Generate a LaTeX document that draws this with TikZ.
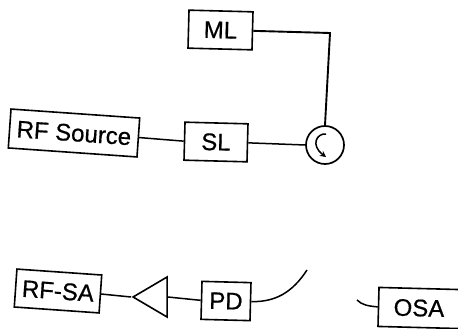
\documentclass[tikz,border=0pt]{standalone}
\usepackage{fontspec}
\setmainfont[FakeBold=0.6,AutoFakeBold=false]{Liberation Sans}
\usetikzlibrary{shapes.geometric,arrows.meta}
\tikzset{
  box/.style={draw=black,line width=1.6pt,inner sep=0pt,font=\fontsize{24}{24}\selectfont,fill=white},
  wire/.style={draw=black,line width=1.5pt},
  thick wire/.style={draw=black,line width=1.9pt},
  port/.style={draw=black,line width=1.7pt,circle,inner sep=0pt,minimum size=38pt},
  amp/.style={draw=black,line width=1.6pt,isosceles triangle,isosceles triangle stretches,shape border rotate=177,minimum width=40pt,minimum height=34pt,inner sep=0pt},
}
\begin{document}
\begin{tikzpicture}[x=1pt,y=-1pt]
\useasboundingbox (0,0) rectangle (458,329);
\node[box,minimum width=64pt,minimum height=38pt,rotate=-1.5] (ml) at (220.5,30) {ML};
\node[box,minimum width=129pt,minimum height=39pt,rotate=-4] (rf) at (74,133) {RF Source};
\node[box,minimum width=63pt,minimum height=38pt,rotate=-1.5] (sl) at (216,142) {SL};
\node[port] (circ) at (325,145) {};
\node[box,minimum width=85pt,minimum height=38pt,rotate=-4] (sa) at (58,291) {RF-SA};
\node[amp,anchor=apex] (tri) at (131,297) {};
\node[box,minimum width=49pt,minimum height=38pt,rotate=-1.5] (pd) at (226,301) {PD};
\node[box,minimum width=81pt,minimum height=39pt,rotate=-1.5] (osa) at (419,308) {OSA};
\coordinate (corner) at (330,33);
\coordinate (pdend) at (307,270);
\coordinate (osaend) at (357,300);
\coordinate (a1) at (326,134);
\coordinate (a2) at (326,157);
\draw[wire] (rf.east) -- (sl.west);
\draw[wire] (sl.east) -- (circ.west);
\draw[thick wire] (ml.east) -- (corner) -- (circ.north);
\draw[wire] (sa.east) -- (tri.apex);
\draw[wire] (tri.east) -- (pd.west);
\draw[wire] (pd.east) .. controls (275,302) and (292,293) .. (pdend);
\draw[wire] (osa.west) .. controls (368,306) and (362,305) .. (osaend);
\draw[line width=1.5pt,-{Stealth[length=6pt,width=6pt]}] (a1) .. controls (317,133) and (310,145) .. (a2);
\end{tikzpicture}
\end{document}
